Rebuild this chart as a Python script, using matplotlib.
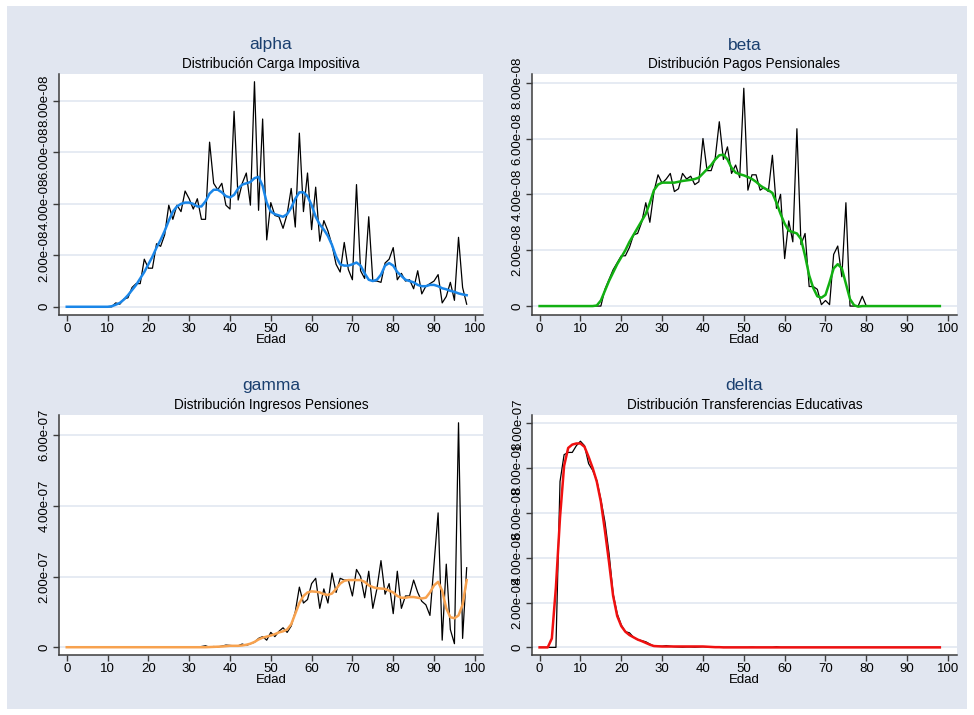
import numpy as np
import matplotlib
matplotlib.use("Agg")
import matplotlib.pyplot as plt
from matplotlib.patches import Rectangle

plt.rcParams['font.family'] = ['Liberation Sans', 'DejaVu Sans']

edad = list(range(0, 99))

# ---------------- alpha (units 1e-8) ----------------
alpha_raw = [0]*11 + [
    0.0, 0.15, 0.1, 0.3, 0.35, 0.75, 0.9, 0.9, 1.85, 1.5,          # 11-20
    1.5, 2.45, 2.35, 2.8, 3.95, 3.4, 3.95, 3.7, 4.5, 4.2,           # 21-30
    3.8, 4.2, 3.4, 3.4, 6.4, 4.8, 4.55, 4.8, 3.95, 3.8,             # 31-40
    7.6, 4.15, 4.8, 5.2, 3.95, 8.75, 3.75, 7.3, 2.6, 4.05,          # 41-50
    3.55, 3.5, 3.05, 3.6, 4.6, 3.1, 6.75, 3.7, 5.2, 3.0,            # 51-60
    4.65, 2.55, 3.35, 2.95, 2.4, 1.65, 1.35, 2.5, 1.45, 1.05,       # 61-70
    4.75, 1.4, 1.1, 3.5, 1.0, 1.0, 0.95, 1.7, 1.85, 2.3,            # 71-80
    1.05, 1.3, 1.0, 1.05, 0.7, 1.4, 0.5, 0.8, 0.9, 1.0,             # 81-90
    1.25, 0.15, 0.4, 0.95, 0.25, 2.7, 0.75, 0.1]                    # 91-98
alpha_smooth = [0]*11 + [
    0.02, 0.08, 0.15, 0.28, 0.45, 0.65, 0.85, 1.1, 1.35, 1.65,
    1.95, 2.3, 2.6, 2.95, 3.35, 3.7, 3.9, 4.0, 4.05, 4.05,
    4.0, 3.9, 3.9, 4.1, 4.4, 4.55, 4.55, 4.45, 4.3, 4.25,
    4.35, 4.6, 4.75, 4.8, 4.85, 5.0, 5.05, 4.7, 4.05, 3.7,
    3.6, 3.55, 3.5, 3.6, 3.85, 4.2, 4.45, 4.45, 4.3, 3.95,
    3.5, 3.2, 3.0, 2.75, 2.4, 1.95, 1.65, 1.6, 1.6, 1.65,
    1.72, 1.6, 1.3, 1.05, 1.0, 1.05, 1.25, 1.6, 1.7, 1.6,
    1.35, 1.2, 1.05, 1.0, 0.95, 0.85, 0.8, 0.8, 0.85, 0.85,
    0.8, 0.72, 0.68, 0.62, 0.58, 0.52, 0.48, 0.45]

# ---------------- beta (units 1e-8) ----------------
beta_raw = [0]*16 + [
    0.6, 0.95, 1.3, 1.55, 1.8,                                      # 16-20
    1.8, 2.1, 2.55, 2.6, 3.0, 3.7, 3.0, 4.1, 4.7, 4.4,              # 21-30
    4.55, 4.75, 4.1, 4.2, 4.75, 4.55, 4.65, 4.35, 4.45, 6.0,        # 31-40
    4.85, 4.85, 5.3, 6.6, 5.25, 5.7, 4.75, 5.05, 4.6, 7.8,          # 41-50
    4.15, 4.7, 4.7, 4.15, 4.25, 4.1, 5.4, 3.5, 4.0, 1.7,            # 51-60
    3.05, 2.3, 6.35, 2.2, 2.6, 0.7, 0.7, 0.6, 0.05, 0.2,            # 61-70
    0.05, 1.85, 2.15, 1.05, 3.7, 0.0, 0.0, 0.0, 0.35, 0.0] + [0]*18 # 71-98
beta_smooth = [0]*14 + [
    0.02, 0.2, 0.55, 0.9, 1.2, 1.5, 1.75,                           # 14-20
    2.0, 2.3, 2.55, 2.8, 3.05, 3.3, 3.7, 4.15, 4.35, 4.42,
    4.42, 4.42, 4.42, 4.45, 4.48, 4.5, 4.52, 4.55, 4.6, 4.75,
    4.9, 5.05, 5.25, 5.4, 5.42, 5.25, 4.95, 4.78, 4.72, 4.68,
    4.62, 4.55, 4.45, 4.32, 4.22, 4.15, 4.05, 3.7, 3.3, 2.95,
    2.7, 2.65, 2.6, 2.4, 1.8, 1.1, 0.65, 0.35, 0.3, 0.4,
    0.85, 1.35, 1.5, 1.35, 0.8, 0.25, 0.03, -0.02, 0.0, 0.0] + [0]*18

# ---------------- gamma (units 1e-7) ----------------
gamma_raw = [0]*33 + [
    0.02, 0.04, 0.0, 0.02, 0.01, 0.03, 0.06,                        # 33-39
    0.05, 0.04, 0.04, 0.09, 0.05, 0.1, 0.14, 0.25, 0.3, 0.2,        # 40-49
    0.42, 0.3, 0.45, 0.55, 0.42, 0.6, 1.0, 1.7, 1.25, 1.35,         # 50-59
    1.8, 1.95, 1.1, 1.65, 1.25, 2.1, 1.55, 1.95, 1.9, 1.9,          # 60-69
    1.45, 2.2, 2.0, 1.4, 2.15, 1.1, 1.65, 2.45, 1.5, 1.8,           # 70-79
    0.95, 2.15, 1.1, 1.45, 1.45, 1.9, 1.55, 1.3, 1.2, 0.9,          # 80-89
    2.35, 3.8, 0.2, 2.35, 0.5, 0.1, 6.35, 0.25, 2.25]               # 90-98
gamma_smooth = [0]*33 + [
    0.0, 0.0, 0.005, 0.01, 0.015, 0.02, 0.03,
    0.04, 0.04, 0.04, 0.05, 0.07, 0.1, 0.15, 0.22, 0.27, 0.3,
    0.33, 0.37, 0.42, 0.45, 0.5, 0.65, 0.95, 1.25, 1.45, 1.55,
    1.58, 1.57, 1.55, 1.5, 1.48, 1.52, 1.65, 1.8, 1.88, 1.9,
    1.9, 1.9, 1.9, 1.85, 1.75, 1.7, 1.67, 1.66, 1.65, 1.6,
    1.55, 1.45, 1.4, 1.4, 1.42, 1.42, 1.4, 1.38, 1.4, 1.55,
    1.75, 1.85, 1.6, 1.1, 0.85, 0.82, 0.9, 1.2, 1.9]

# ---------------- delta (units 1e-8) ----------------
delta_raw = [0, 0, 0, 0, 0,
    7.4, 8.6, 8.7, 8.7, 9.0, 9.2, 9.0, 8.2, 7.9, 7.45,              # 5-14
    6.6, 5.6, 4.2, 2.4, 1.5, 1.0, 0.7, 0.65, 0.45, 0.35,            # 15-24
    0.3, 0.25, 0.15, 0.05, 0.05, 0.05, 0.08, 0.05, 0.03, 0.02,      # 25-34
    0.01, 0.02, 0.02, 0.01, 0.02, 0.03, 0.02, 0.01, 0.0, 0.01,      # 35-44
    0.0, 0.0, 0.0, 0.0, 0.0, 0.0, 0.0, 0.01, 0.0, 0.0,              # 45-54
    0.0, 0.0, 0.0, 0.03, 0.0] + [0]*39                              # 55-98
delta_smooth = [0, 0, 0.0, 0.4, 2.7,
    5.8, 8.1, 8.9, 9.05, 9.1, 9.1, 8.95, 8.5, 8.0, 7.4,
    6.5, 5.2, 3.8, 2.3, 1.4, 0.95, 0.7, 0.55, 0.45, 0.35,
    0.28, 0.2, 0.12, 0.06, 0.05, 0.04, 0.04, 0.04, 0.04, 0.04,
    0.04, 0.04, 0.04, 0.04, 0.04, 0.04, 0.03, 0.02, 0.01, 0.01] + [0]*54

titles = ["alpha", "beta", "gamma", "delta"]
subtitles = ["Distribución Carga Impositiva", "Distribución Pagos Pensionales",
             "Distribución Ingresos Pensiones", "Distribución Transferencias Educativas"]
raw_series = [alpha_raw, beta_raw, gamma_raw, delta_raw]
smooth_series = [alpha_smooth, beta_smooth, gamma_smooth, delta_smooth]
scales = [1e-8, 1e-8, 1e-7, 1e-8]
yticks_vals = [[0, 2e-8, 4e-8, 6e-8, 8e-8], [0, 2e-8, 4e-8, 6e-8, 8e-8],
               [0, 2e-7, 4e-7, 6e-7], [0, 2e-8, 4e-8, 6e-8, 8e-8, 1e-7]]
ytick_labels = [["0", "2.00e-08", "4.00e-08", "6.00e-08", "8.00e-08"],
                ["0", "2.00e-08", "4.00e-08", "6.00e-08", "8.00e-08"],
                ["0", "2.00e-07", "4.00e-07", "6.00e-07"],
                ["0", "2.00e-08", "4.00e-08", "6.00e-08", "8.00e-08", "1.00e-07"]]
xticks = list(range(0, 101, 10))
smooth_colors = ["#1a86e8", "#12b012", "#f7a24f", "#f01010"]

W, H = 974, 715
fig = plt.figure(figsize=(W/100, H/100), dpi=100)
fig.patch.set_facecolor("white")
fig.patches.append(Rectangle((7/W, 6/H), (W-14)/W, (H-12)/H, transform=fig.transFigure,
                             facecolor="#e1e6f0", edgecolor="none", zorder=-10))

# axes boxes in pixels: left, top, right, bottom
boxes = [(59, 74, 483, 315), (532, 74, 957, 315),
         (59, 415, 483, 655), (532, 415, 957, 655)]
ylims = [(-0.32, 9.05), (-0.32, 8.31), (-0.22, 6.57), (-0.34, 10.37)]
xlims = [(-1.9, 102.0), (-1.86, 102.2), (-1.9, 102.0), (-1.86, 102.2)]

for i in range(4):
    l, t, r, b = boxes[i]
    ax = fig.add_axes([l/W, 1 - b/H, (r-l)/W, (b-t)/H])
    ax.set_facecolor("white")
    sc = scales[i]
    ax.plot(edad, np.array(raw_series[i]) * sc, color="black", lw=0.9, zorder=3)
    ax.plot(edad, np.array(smooth_series[i]) * sc, color=smooth_colors[i], lw=1.8, zorder=4)
    ax.set_xlim(*xlims[i])
    ax.set_ylim(ylims[i][0]*sc, ylims[i][1]*sc)
    ax.set_xticks(xticks)
    ax.set_xticklabels([str(v) for v in xticks], fontsize=9.5)
    ax.set_yticks(yticks_vals[i])
    ax.set_yticklabels(ytick_labels[i], fontsize=9.5, rotation=90, va="center")
    ax.grid(axis="y", color="#e4e9f2", lw=1.3, zorder=0)
    ax.grid(axis="x", visible=False)
    for s in ["top", "right"]:
        ax.spines[s].set_visible(False)
    for s in ["left", "bottom"]:
        ax.spines[s].set_color("#3c3c3c")
        ax.spines[s].set_linewidth(1.1)
    ax.tick_params(direction="out", length=4, width=1.0, color="#3c3c3c", pad=2)
    ax.set_xlabel("Edad", fontsize=9.5, labelpad=-1)
    cx = (l + r) / 2 / W
    fig.text(cx, 1 - (t - 29)/H, titles[i], ha="center", va="center",
             fontsize=12.5, color="#1a3f6f")
    fig.text(cx, 1 - (t - 10)/H, subtitles[i], ha="center", va="center",
             fontsize=9.8, color="black")

fig.savefig("out.png", dpi=100, facecolor=fig.get_facecolor())
